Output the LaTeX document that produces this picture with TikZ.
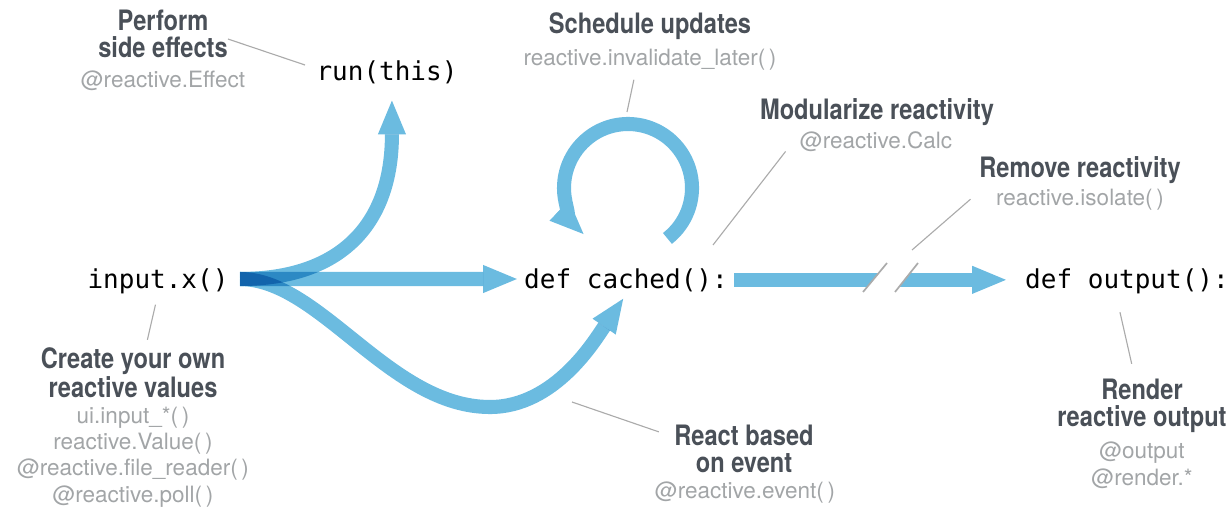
\documentclass[tikz,border=0pt]{standalone}
\usepackage{fontspec}
\setmainfont{TeX Gyre Heros}
\newfontfamily\headfont[FakeStretch=0.84]{TeX Gyre Heros}
\setmonofont{DejaVu Sans Mono}
\usetikzlibrary{arrows.meta,positioning}
\definecolor{flowblue}{HTML}{6BBBE0}
\definecolor{headgrey}{HTML}{4A5058}
\definecolor{subgrey}{HTML}{A2A5A7}
\definecolor{leadgrey}{HTML}{ABABAB}

\begin{document}
\begin{tikzpicture}[x=0.025cm,y=-0.025cm,
    code/.style={font=\ttfamily\fontsize{18.5}{21}\selectfont,anchor=base,inner sep=0pt},
    head/.style={font=\headfont\bfseries\fontsize{20}{19.2}\selectfont,text=headgrey,align=center,anchor=base,inner sep=0pt},
    sub/.style={font=\fontsize{16}{18.5}\selectfont,text=subgrey,align=center,anchor=base,inner sep=0pt},
    flow/.style={line width=10pt,draw=flowblue,-{Triangle[length=24pt,width=20pt,line width=0pt]}},
    leader/.style={draw=leadgrey,line width=0.8pt}]
  \useasboundingbox (0,0) rectangle (1231,514);

  % code
  \node[code] (input) at (158,288) {input.x()};
  \node[code] (run) at (387,80) {run(this)};
  \node[code] (cached) at (626,288) {def cached():};
  \node[code] (output) at (1127,288) {def output():};

  % notes (base = last line)
  \node[head] (perform) at (163,57) {Perform\\side effects};
  \node[sub] (effsub) at (163,87) {@reactive.Effect};
  \node[head] (sched) at (650,33) {Schedule updates};
  \node[sub] (schedsub) at (650,65) {reactive.invalidate\_later(\,)};
  \node[head] (modul) at (877,119) {Modularize reactivity};
  \node[sub] (calcsub) at (876,148) {@reactive.Calc};
  \node[head] (remove) at (1080,177) {Remove reactivity};
  \node[sub] (isolsub) at (1080,205) {reactive.isolate(\,)};
  \node[head] (create) at (133,397) {Create your own\\reactive values};
  \node[sub] (valsub) at (133,502) {ui.input\_*(\,)\\reactive.Value(\,)\\@reactive.file\_reader(\,)\\@reactive.poll(\,)};
  \node[head] (react) at (744,472) {React based\\on event};
  \node[sub] (evsub) at (745,498) {@reactive.event(\,)};
  \node[head] (render) at (1142,426) {Render\\reactive output};
  \node[sub] (rendsub) at (1142,485) {@output\\@render.*};

  \coordinate (src) at (240,279);
  \coordinate (loopc) at (628,188);
  \coordinate (effpt) at (305,65);
  \coordinate (loopt) at (627,112);
  \coordinate (calcpt) at (713,245);
  \coordinate (isolpt) at (912,250);
  \coordinate (evpt) at (572,402);

  % flows
  \begin{scope}[blend group=multiply]
    \draw[flow] (src) .. controls (340,279) and (392,225) .. ([xshift=3.5pt,yshift=-12pt]run.south);
    \draw[flow] (src) -- (src -| cached.west) [shorten >=5pt];
    \draw[flow] (src) .. controls (320,279) and (390,407) .. (490,407)
      .. controls (555,407) and (595,340) .. ([xshift=-2pt,yshift=-5pt]cached.south);
  \end{scope}
  \draw[flow] ([shift={(52:64)}]loopc) arc[start angle=52,end angle=-226,radius=64];
  \draw[flow,shorten <=4.5pt,shorten >=13.5pt] (cached.east) -- (cached.east -| output.west);

  % isolate break
  \fill[white] (863,292) -- (887,263) -- (918,263) -- (895,292) -- cycle;
  \draw[leader,line width=1.2pt] (863,292) -- (887,263) (895,292) -- (918,263);

  % leaders
  \draw[leader] ([yshift=-4pt]perform.east) -- (effpt);
  \draw[leader,shorten <=7pt] ([xshift=-10pt]schedsub.south) -- (loopt);
  \draw[leader] ([xshift=-10pt]calcsub.south west) -- (calcpt);
  \draw[leader] ([xshift=-18pt]isolsub.west) -- (isolpt);
  \draw[leader,shorten <=8pt,shorten >=5.5pt] (input.south) -- ([xshift=9pt]create.north);
  \draw[leader,shorten >=11.5pt] (evpt) -- ([yshift=8pt]react.west);
  \draw[leader,shorten <=13.5pt,shorten >=10.5pt] ([xshift=-8pt]output.south) -- ([xshift=-5pt]render.north);
\end{tikzpicture}
\end{document}
